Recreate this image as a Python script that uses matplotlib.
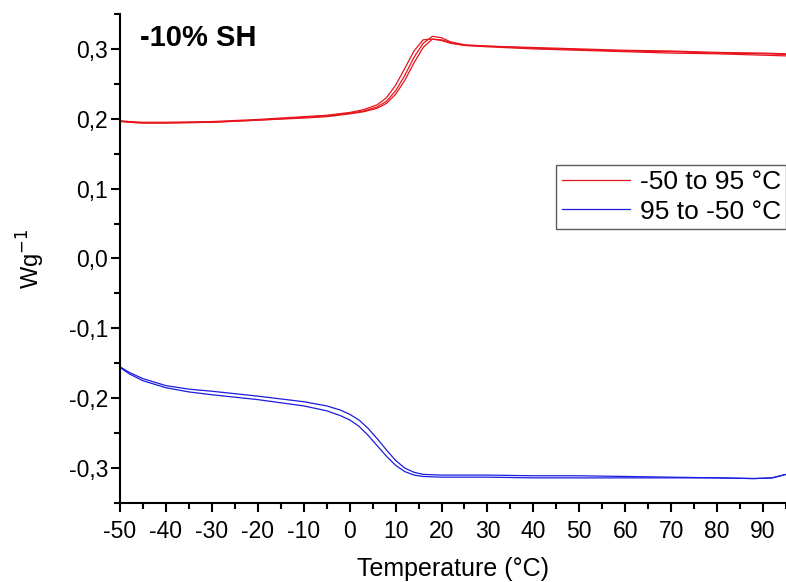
import matplotlib.pyplot as plt
from matplotlib.ticker import MultipleLocator, FuncFormatter

plt.rcParams['font.family'] = ['Liberation Sans', 'DejaVu Sans']
plt.rcParams['axes.unicode_minus'] = False

# heating runs (-50 to 95 °C), three overlapping cycles
t_heat = [-50, -48, -45, -40, -30, -20, -10, -5, 0, 3, 6, 8, 10, 12, 14, 16, 18, 20, 22, 25,
          30, 40, 50, 60, 70, 80, 90, 95]
heat_a = [0.197, 0.196, 0.195, 0.195, 0.196, 0.199, 0.203, 0.205, 0.209, 0.213, 0.220, 0.230,
          0.248, 0.272, 0.297, 0.313, 0.314, 0.312, 0.308, 0.305, 0.304, 0.302, 0.300, 0.298,
          0.297, 0.295, 0.294, 0.293]
heat_b = [0.196, 0.195, 0.194, 0.194, 0.195, 0.198, 0.202, 0.204, 0.208, 0.211, 0.217, 0.225,
          0.240, 0.262, 0.288, 0.308, 0.318, 0.316, 0.310, 0.306, 0.304, 0.301, 0.299, 0.297,
          0.296, 0.294, 0.293, 0.292]
heat_c = [0.197, 0.195, 0.194, 0.194, 0.195, 0.198, 0.201, 0.203, 0.207, 0.210, 0.215, 0.222,
          0.235, 0.255, 0.280, 0.302, 0.314, 0.313, 0.309, 0.305, 0.303, 0.300, 0.298, 0.296,
          0.294, 0.293, 0.291, 0.290]

# cooling runs (95 to -50 °C), two cycles
t_cool = [-50, -48, -45, -42, -40, -35, -30, -20, -10, -5, -2, 0, 2, 4, 6, 8, 10, 12, 14, 16,
          20, 30, 40, 50, 60, 70, 80, 88, 92, 95]
cool_a = [-0.155, -0.163, -0.172, -0.178, -0.182, -0.187, -0.190, -0.197, -0.205, -0.211,
          -0.217, -0.223, -0.231, -0.243, -0.258, -0.274, -0.289, -0.300, -0.306, -0.309,
          -0.310, -0.310, -0.311, -0.311, -0.312, -0.313, -0.314, -0.315, -0.314, -0.309]
cool_b = [-0.156, -0.165, -0.175, -0.181, -0.185, -0.191, -0.195, -0.202, -0.211, -0.218,
          -0.225, -0.231, -0.240, -0.253, -0.268, -0.283, -0.296, -0.305, -0.310, -0.312,
          -0.313, -0.313, -0.314, -0.314, -0.314, -0.314, -0.314, -0.315, -0.314, -0.309]

red = '#e8141c'
blue = '#1c1ce0'

fig = plt.figure(figsize=(7.86, 5.82), dpi=100)
ax = fig.add_axes([0.1527, 0.1357, 0.8473, 0.8403])

ax.plot(t_heat, heat_a, color=red, lw=0.9, label='-50 to 95 °C')
ax.plot(t_heat, heat_b, color=red, lw=0.9)
ax.plot(t_heat, heat_c, color=red, lw=0.9)
ax.plot(t_cool, cool_a, color=blue, lw=0.9, label='95 to -50 °C')
ax.plot(t_cool, cool_b, color=blue, lw=0.9)

ax.set_xlim(-50, 95)
ax.set_ylim(-0.35, 0.35)
ax.xaxis.set_major_locator(MultipleLocator(10))
ax.xaxis.set_minor_locator(MultipleLocator(5))
ax.yaxis.set_major_locator(MultipleLocator(0.1))
ax.yaxis.set_minor_locator(MultipleLocator(0.05))
ax.yaxis.set_major_formatter(FuncFormatter(lambda v, p: f'{v:.1f}'.replace('.', ',').replace('-0,0', '0,0')))

for s in ['top', 'right']:
    ax.spines[s].set_visible(False)
for s in ['left', 'bottom']:
    ax.spines[s].set_linewidth(1.5)
ax.tick_params(which='major', direction='out', length=6.5, width=1.5, labelsize=16.5)
ax.tick_params(axis='x', which='major', pad=6)
ax.tick_params(axis='y', which='major', pad=2)
ax.tick_params(which='minor', direction='out', length=4, width=1.5)

ax.set_xlabel('Temperature (°C)', fontsize=18, labelpad=10)
ax.set_ylabel('Wg$^{-1}$', fontsize=17, labelpad=16)

ax.text(0.03, 0.98, '-10% SH', transform=ax.transAxes, fontsize=21,
        fontweight='bold', va='top', ha='left')

leg = ax.legend(loc='upper right', bbox_to_anchor=(1.0, 0.691), borderaxespad=0,
                fontsize=19, frameon=True, fancybox=False, handlelength=2.6,
                borderpad=0.2, labelspacing=0.2, handletextpad=0.35)
leg.get_frame().set_edgecolor('#333333')
leg.get_frame().set_linewidth(1)

fig.savefig('out.png', dpi=100)
